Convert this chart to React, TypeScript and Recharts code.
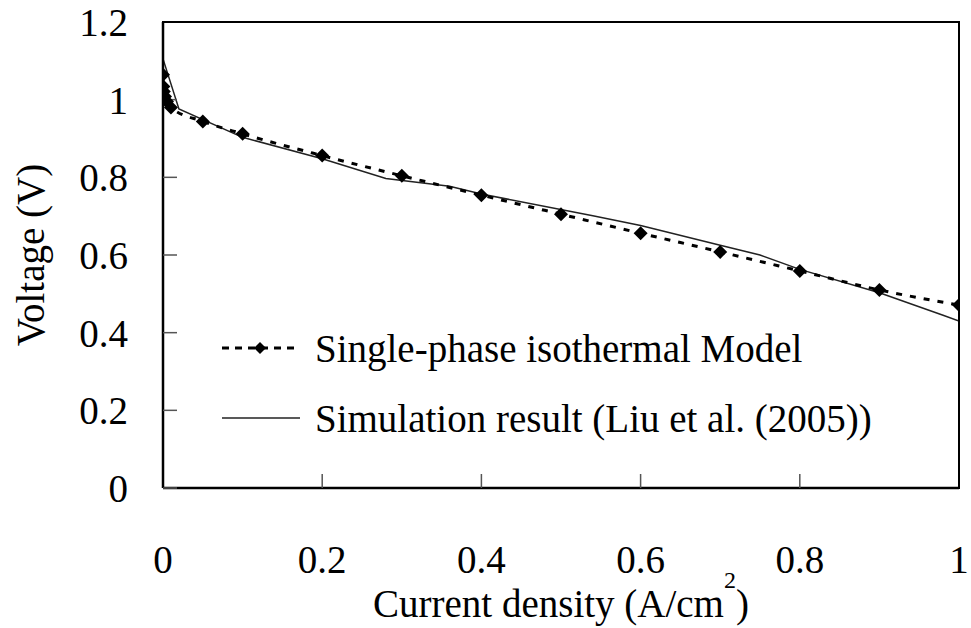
import React from 'react';
import { LineChart, Line, XAxis, YAxis, Legend } from 'recharts';

// Single-phase isothermal model (markers)
const modelCurrent = [0, 0.0005, 0.001, 0.0025, 0.005, 0.01, 0.05, 0.1, 0.2, 0.3, 0.4, 0.5, 0.6, 0.7, 0.8, 0.9, 1.0];
const modelVoltage = [1.064, 1.034, 1.021, 1.008, 0.995, 0.98, 0.944, 0.912, 0.856, 0.804, 0.754, 0.705, 0.656, 0.608, 0.559, 0.51, 0.471];

// Simulation result (Liu et al. 2005)
const simCurrent = [0, 0.02, 0.1, 0.2, 0.28, 0.36, 0.4, 0.54, 0.6, 0.7, 0.75, 0.8, 0.9, 0.98, 1.0];
const simVoltage = [1.105, 0.976, 0.903, 0.848, 0.797, 0.777, 0.757, 0.701, 0.676, 0.625, 0.6, 0.563, 0.503, 0.445, 0.43];

const xTicks = [0, 0.2, 0.4, 0.6, 0.8, 1];
const yTicks = [0, 0.2, 0.4, 0.6, 0.8, 1, 1.2];

const modelData = modelCurrent.map((x, i) => ({ x, y: modelVoltage[i] }));
const simData = simCurrent.map((x, i) => ({ x, y: simVoltage[i] }));

const FONT = '"Liberation Serif", "Times New Roman", serif';
const FS = 39;
const W = 971;
const H = 628;
const MARGIN = { top: 22, right: 12, left: 0, bottom: 0 };
const YAXIS_W = 163;
const XAXIS_H = 140;
const FRAME = 2.5;

const Diamond = ({ cx, cy, size = 7 }: any) => {
  if (cx == null || cy == null) return null;
  const r = size;
  return <polygon points={`${cx},${cy - r} ${cx + r},${cy} ${cx},${cy + r} ${cx - r},${cy}`} fill="#000" />;
};

const YTitle = ({ viewBox }: any) => {
  const cx = viewBox.x + 30;
  const cy = viewBox.y + viewBox.height / 2;
  return (
    <text x={cx} y={cy} transform={`rotate(-90, ${cx}, ${cy})`} textAnchor="middle" dominantBaseline="central"
      fontFamily={FONT} fontSize={FS} fill="#000">
      Voltage (V)
    </text>
  );
};

const XTitle = ({ viewBox }: any) => {
  const cx = viewBox.x + viewBox.width / 2;
  return (
    <text x={cx} y={viewBox.y + 129} textAnchor="middle" fontFamily={FONT} fontSize={FS} fill="#000">
      Current density (A/cm<tspan dy={-29} fontSize={24}>2</tspan><tspan dy={29}>)</tspan>
    </text>
  );
};

const LegendBox = ({ payload }: any) => (
  <div style={{ fontFamily: FONT, fontSize: FS, color: '#000' }}>
    {(payload || []).map((entry: any) => {
      const dashed = String(entry.value).startsWith('Single');
      return (
        <div key={entry.value} style={{ display: 'flex', alignItems: 'center', height: 70 }}>
          <svg width={78} height={20}>
            {dashed ? (
              <>
                <line x1={0} y1={10} x2={78} y2={10} stroke="#000" strokeWidth={3} strokeDasharray="7 6" />
                <Diamond cx={38} cy={10} size={6} />
              </>
            ) : (
              <line x1={0} y1={10} x2={78} y2={10} stroke="#222" strokeWidth={1.5} />
            )}
          </svg>
          <span style={{ marginLeft: 15, whiteSpace: 'nowrap', lineHeight: 1 }}>{entry.value}</span>
        </div>
      );
    })}
  </div>
);

const frameLine = { stroke: '#000', strokeWidth: FRAME };

// plot-area box, from the chart's own layout constants
const plotLeft = MARGIN.left + YAXIS_W;
const plotTop = MARGIN.top;
const plotW = W - plotLeft - MARGIN.right;
const plotH = H - MARGIN.top - MARGIN.bottom - XAXIS_H;

export default function App() {
  return (
    <div style={{ position: 'absolute', left: 0, top: 0, width: W, height: H, background: '#fff' }}>
      <LineChart width={W} height={H} data={modelData} margin={MARGIN}>
        <XAxis
          type="number"
          dataKey="x"
          domain={[0, 1]}
          ticks={xTicks}
          interval={0}
          height={XAXIS_H}
          tickSize={-14}
          tickMargin={71}
          allowDataOverflow
          axisLine={frameLine}
          tickLine={{ stroke: '#555', strokeWidth: 1.5 }}
          tick={{ fill: '#000', fontSize: FS, fontFamily: FONT }}
          tickFormatter={(v: number) => String(v)}
          label={<XTitle />}
        />
        <YAxis
          type="number"
          dataKey="y"
          domain={[0, 1.2]}
          ticks={yTicks}
          interval={0}
          width={YAXIS_W}
          tickSize={-14}
          tickMargin={49}
          allowDataOverflow
          axisLine={frameLine}
          tickLine={{ stroke: '#555', strokeWidth: 1.5 }}
          tick={{ fill: '#000', fontSize: FS, fontFamily: FONT }}
          tickFormatter={(v: number) => String(v)}
          label={<YTitle />}
        />
        <Line
          data={simData}
          dataKey="y"
          name="Simulation result (Liu et al. (2005))"
          type="linear"
          stroke="#222"
          strokeWidth={1.5}
          dot={false}
          isAnimationActive={false}
        />
        <Line
          dataKey="y"
          name="Single-phase isothermal Model"
          type="monotone"
          stroke="#000"
          strokeWidth={3}
          strokeDasharray="6 8"
          dot={(p: any) => <Diamond key={p.index} cx={p.cx} cy={p.cy} size={7} />}
          isAnimationActive={false}
        />
        <Legend
          layout="vertical"
          align="center"
          verticalAlign="middle"
          content={(props: any) => <LegendBox payload={[...(props.payload || [])].reverse()} />}
          wrapperStyle={{ left: 222, top: 313, width: 'auto', height: 'auto' }}
        />
      </LineChart>
      {/* top and right edges of the plot frame */}
      <div
        style={{
          position: 'absolute',
          left: plotLeft - FRAME / 2,
          top: plotTop - FRAME / 2,
          width: plotW,
          height: plotH,
          borderTop: `${FRAME}px solid #000`,
          borderRight: `${FRAME}px solid #000`,
          pointerEvents: 'none',
        }}
      />
    </div>
  );
}
